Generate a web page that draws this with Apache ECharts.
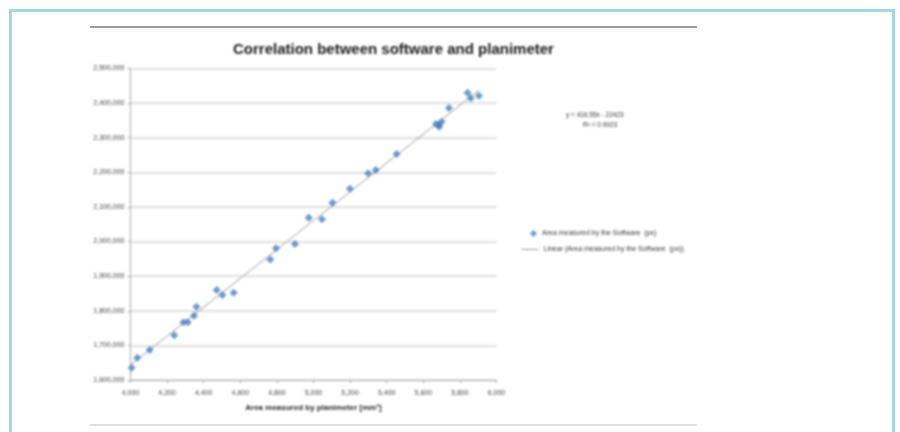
<!DOCTYPE html>
<html>
<head>
<meta charset="utf-8">
<script src="https://cdn.jsdelivr.net/npm/echarts@6/dist/echarts.min.js"></script>
<style>
  html, body { margin: 0; padding: 0; background: #fff; }
  #wrap { position: relative; width: 900px; height: 432px; overflow: hidden; background: #fff; }
  #frame { position: absolute; left: 9px; top: 9px; width: 880px; height: 440px;
           border: 3px solid #a3d8d8; box-sizing: content-box; }
  #sheet { position: absolute; left: 90px; top: 26px; width: 607px; height: 396px;
           border-top: 2px solid #9c9c9c; border-bottom: 2px solid #dedede; }
  #chart { position: absolute; left: 0; top: 0; width: 900px; height: 432px; filter: blur(0.8px); }
</style>
</head>
<body>
<div id="wrap">
  <div id="frame"></div>
  <div id="sheet"></div>
  <div id="chart"></div>
</div>
<script>
// Planimeter area (mm²) against area measured by the software (px)
const planimeterArea = [4006, 4037, 4105, 4239, 4289, 4313, 4347, 4360, 4471, 4502,
  4564, 4764, 4795, 4899, 4974, 5046, 5103, 5199, 5298, 5340,
  5454, 5669, 5682, 5687, 5700, 5740, 5842, 5859, 5904];
const softwareArea = [1635500, 1664400, 1686700, 1729000, 1766600, 1766600, 1785700, 1811700, 1860000, 1845500,
  1852200, 1948400, 1980400, 1992800, 2068800, 2064000, 2112100, 2152600, 2197000, 2206600,
  2252800, 2339400, 2336600, 2331700, 2346100, 2385700, 2429900, 2413700, 2421200];

// Linear trendline coefficients
const slope = 416.55;
const intercept = -22423;
const rSquared = '0.9923';

const seriesName = 'Area measured by the Software  (px)';
const trendName = 'Linear (Area measured by the Software  (px))';

const points = planimeterArea.map((x, i) => [x, softwareArea[i]]);
const xMin = Math.min(...planimeterArea);
const xMax = Math.max(...planimeterArea);
const trend = [[xMin, slope * xMin + intercept], [xMax, slope * xMax + intercept]];

const fmt = v => String(v).replace(/\B(?=(\d{3})+(?!\d))/g, ',');
const FONT = 'Liberation Sans';
const BLUE = '#4a7ebb';
const TREND = '#999999';

const chart = echarts.init(document.getElementById('chart'), null, { renderer: 'canvas' });
chart.setOption({
  animation: false,
  textStyle: { fontFamily: FONT },
  title: {
    text: 'Correlation between software and planimeter',
    left: 228, top: 37,
    textStyle: { fontFamily: FONT, fontSize: 15, fontWeight: 'bold', color: '#1a1a1a' }
  },
  grid: { left: 130.5, right: 403.5, top: 68.4, bottom: 52, containLabel: false },
  xAxis: {
    type: 'value', min: 4000, max: 6000, interval: 200,
    name: 'Area measured by planimeter [mm²]',
    nameLocation: 'middle', nameGap: 24,
    nameTextStyle: { fontFamily: FONT, fontSize: 8, fontWeight: 'bold', color: '#222' },
    axisLine: { show: true, lineStyle: { color: '#a6a6a6', width: 1 } },
    axisTick: { show: true, length: 3, lineStyle: { color: '#a6a6a6' } },
    axisLabel: { fontSize: 7, color: '#444', margin: 10, formatter: fmt },
    splitLine: { show: false }
  },
  yAxis: {
    type: 'value', min: 1600000, max: 2500000, interval: 100000,
    axisLine: { show: true, lineStyle: { color: '#a6a6a6', width: 1 } },
    axisTick: { show: true, length: 3, lineStyle: { color: '#a6a6a6' } },
    axisLabel: { fontSize: 7, color: '#444', margin: 6, formatter: fmt },
    splitLine: { show: true, lineStyle: { color: '#d6d6d6', width: 1.5 } }
  },
  legend: [
    {
      left: 530, top: 230, padding: 0, itemWidth: 7, itemHeight: 7,
      textStyle: { fontFamily: FONT, fontSize: 7, color: '#333' },
      data: [{ name: seriesName, icon: 'diamond' }]
    },
    {
      left: 521, top: 246, padding: 0, itemWidth: 17, itemHeight: 7,
      textStyle: { fontFamily: FONT, fontSize: 7, color: '#333' },
      data: [{ name: trendName, itemStyle: { opacity: 0 }, lineStyle: { color: TREND, width: 1 } }]
    }
  ],
  series: [
    {
      name: seriesName, type: 'scatter', data: points,
      symbol: 'diamond', symbolSize: 8,
      itemStyle: { color: BLUE }, z: 3
    },
    {
      name: trendName, type: 'line', data: trend,
      symbol: 'none', showSymbol: false,
      itemStyle: { color: TREND },
      lineStyle: { color: TREND, width: 1 }, z: 2
    }
  ],
  graphic: [
    {
      type: 'text', left: 566, top: 112,
      style: { text: 'y = ' + slope + 'x - ' + Math.abs(intercept), fontFamily: FONT, fontSize: 6.5, fill: '#333' }
    },
    {
      type: 'text', left: 583, top: 122,
      style: { text: 'R² = ' + rSquared, fontFamily: FONT, fontSize: 6.5, fill: '#333' }
    }
  ]
});
</script>
</body>
</html>
